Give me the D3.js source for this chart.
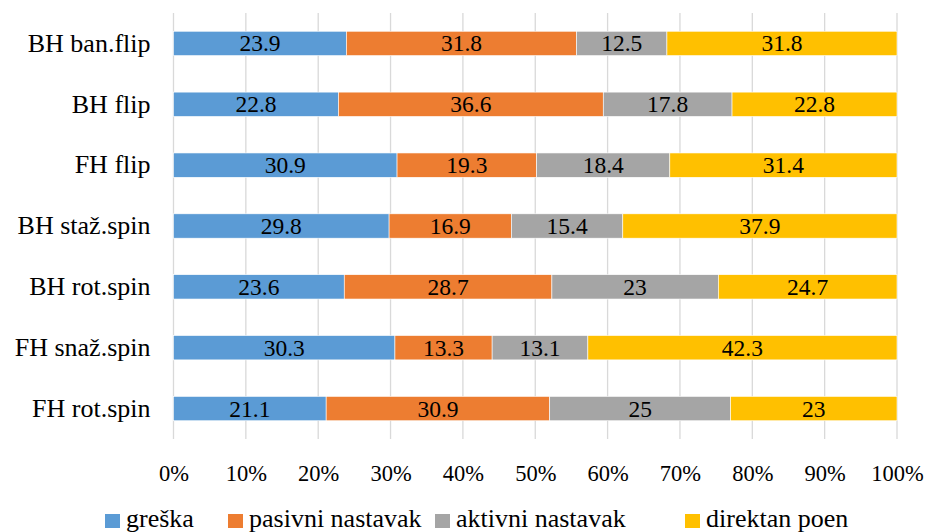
<!DOCTYPE html>
<html>
<head>
<meta charset="utf-8">
<script src="https://cdn.jsdelivr.net/npm/d3@7"></script>
</head>
<body style="margin:0;background:#fff">
<script>
const categories = ['BH ban.flip', 'BH flip', 'FH flip', 'BH staž.spin', 'BH rot.spin', 'FH snaž.spin', 'FH rot.spin'];
const seriesNames = ['greška', 'pasivni nastavak', 'aktivni nastavak', 'direktan poen'];
const greska = [23.9, 22.8, 30.9, 29.8, 23.6, 30.3, 21.1];
const pasivni = [31.8, 36.6, 19.3, 16.9, 28.7, 13.3, 30.9];
const aktivni = [12.5, 17.8, 18.4, 15.4, 23, 13.1, 25];
const direktan = [31.8, 22.8, 31.4, 37.9, 24.7, 42.3, 23];
const tickValues = [0, 0.1, 0.2, 0.3, 0.4, 0.5, 0.6, 0.7, 0.8, 0.9, 1];
const colors = ['#5B9BD5', '#ED7D31', '#A5A5A5', '#FFC000'];

const FONT = "'Liberation Serif', Tinos, 'Times New Roman', serif";
const width = 925, height = 532;
const margin = { top: 13, right: 28, bottom: 93, left: 173.5 };

const svg = d3.select('body').append('svg')
  .attr('width', width)
  .attr('height', height)
  .style('display', 'block');

// rows normalised to 100%
const rows = categories.map((c, i) => {
  const vals = [greska[i], pasivni[i], aktivni[i], direktan[i]];
  const total = d3.sum(vals);
  const row = { cat: c };
  seriesNames.forEach((s, j) => { row[s] = vals[j] / total; row[s + '_raw'] = vals[j]; });
  return row;
});

const stacked = d3.stack().keys(seriesNames)(rows);

const x = d3.scaleLinear().domain([0, 1]).range([margin.left, width - margin.right]);
const y = d3.scaleBand().domain(categories).range([margin.top, height - margin.bottom]).paddingInner(0.6).paddingOuter(0.3);

// gridlines
svg.append('g')
  .selectAll('line')
  .data(tickValues)
  .join('line')
  .attr('x1', d => x(d)).attr('x2', d => x(d))
  .attr('y1', margin.top).attr('y2', height - margin.bottom)
  .attr('stroke', '#D9D9D9')
  .attr('stroke-width', 1.3);

// bars
const groups = svg.append('g')
  .selectAll('g')
  .data(stacked)
  .join('g')
  .attr('fill', (d, i) => colors[i]);

groups.selectAll('rect')
  .data(d => d.map(p => ({ p, key: d.key })))
  .join('rect')
  .attr('x', d => x(d.p[0]))
  .attr('y', d => y(d.p.data.cat))
  .attr('width', d => x(d.p[1]) - x(d.p[0]))
  .attr('height', y.bandwidth())
  .attr('stroke', '#fff')
  .attr('stroke-width', 0.6);

// value labels
svg.selectAll('text.val')
  .data(stacked.flatMap(s => s.map(p => ({ p, key: s.key }))))
  .join('text')
  .attr('class', 'val')
  .attr('x', d => (x(d.p[0]) + x(d.p[1])) / 2)
  .attr('y', d => y(d.p.data.cat) + y.bandwidth() / 2 + 8)
  .attr('text-anchor', 'middle')
  .style('font-family', FONT, 'important')
  .style('font-size', '23.5px')
  .attr('fill', '#000')
  .text(d => d.p.data[d.key + '_raw']);

// category axis
svg.append('g')
  .attr('transform', `translate(${margin.left},0)`)
  .call(d3.axisLeft(y).tickSize(0).tickPadding(23))
  .attr('font-family', FONT)
  .call(g => g.select('.domain').remove())
  .call(g => g.selectAll('.tick text')
    .style('font-family', FONT, 'important')
    .style('font-size', '26px')
    .attr('fill', '#000'));

// value axis
svg.append('g')
  .attr('transform', `translate(0,${height - margin.bottom})`)
  .call(d3.axisBottom(x).tickValues(tickValues).tickFormat(d3.format('.0%')).tickSize(0).tickPadding(26))
  .attr('font-family', FONT)
  .call(g => g.select('.domain').remove())
  .call(g => g.selectAll('.tick text')
    .style('font-family', FONT, 'important')
    .style('font-size', '22.5px')
    .attr('fill', '#000'));

// legend
const legendX = [105, 228, 435, 685];
svg.selectAll('rect.key')
  .data(seriesNames)
  .join('rect')
  .attr('class', 'key')
  .attr('x', (d, i) => legendX[i]).attr('y', 514)
  .attr('width', 15).attr('height', 14)
  .attr('fill', (d, i) => colors[i]);

svg.selectAll('text.key')
  .data(seriesNames)
  .join('text')
  .attr('class', 'key')
  .attr('x', (d, i) => legendX[i] + 21)
  .attr('y', 527)
  .style('font-family', FONT, 'important')
  .style('font-size', '26px')
  .attr('fill', '#000')
  .text(d => d);
</script>
</body>
</html>
